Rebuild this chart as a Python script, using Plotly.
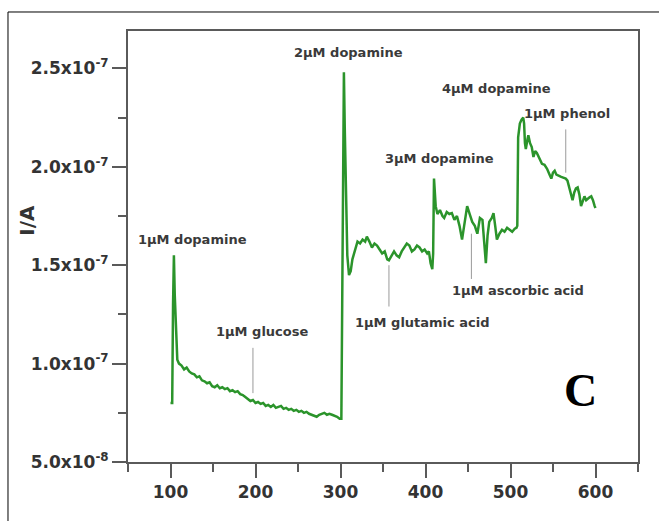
import plotly.graph_objects as go

# time (s)
time_s = [100, 102, 103, 104, 105, 106, 107, 108, 110, 113, 116, 119, 122, 125, 128, 131, 134, 137, 140,
          143, 146, 149, 152, 155, 158, 161, 164, 167, 170, 173, 176, 179, 182, 185, 188, 191, 194, 197,
          200, 203, 206, 209, 212, 215, 218, 221, 224, 227, 230, 233, 236, 239, 242, 245, 248, 251, 254,
          257, 260, 263, 266, 269, 272, 275, 278, 281, 284, 287, 290, 293, 296, 299, 301,
          302, 303, 304, 305, 306, 307, 308, 310, 312, 314, 317, 320, 323, 326, 329, 331, 334, 337, 340,
          343, 346, 349, 352, 355, 357, 360, 363, 366, 369, 372, 375, 378, 381, 384, 387, 390, 393, 396,
          399, 402, 404, 406, 408, 409, 410, 411, 412, 414, 417, 420, 422, 425, 428, 431, 434, 437, 440,
          443, 446, 449, 452, 455, 458, 461, 464, 467, 469, 471, 473, 475, 478, 480, 482, 484, 487, 490,
          493, 496, 499, 502, 505, 507, 508, 509, 511, 513, 515, 516, 517, 518, 520, 521, 523, 525, 527,
          529, 531, 533, 535, 537, 540, 543, 546, 548, 550, 552, 554, 556, 559, 562, 565, 567, 569, 571,
          573, 575, 577, 579, 581, 583, 585, 587, 589, 591, 593, 595, 597, 599, 600]

# current in units of 1e-7 A
current_e7 = [0.80, 0.80, 1.30, 1.55, 1.35, 1.25, 1.10, 1.02, 1.00, 0.99, 0.97, 0.98, 0.96, 0.95, 0.945, 0.93,
              0.935, 0.915, 0.91, 0.90, 0.905, 0.885, 0.88, 0.89, 0.875, 0.88, 0.87, 0.875, 0.86, 0.865,
              0.855, 0.86, 0.845, 0.84, 0.83, 0.82, 0.81, 0.815, 0.80, 0.805, 0.795, 0.80, 0.785, 0.79,
              0.78, 0.79, 0.775, 0.78, 0.785, 0.77, 0.775, 0.765, 0.77, 0.76, 0.765, 0.755, 0.76, 0.75,
              0.755, 0.745, 0.74, 0.735, 0.73, 0.74, 0.745, 0.75, 0.74, 0.745, 0.74, 0.735, 0.73, 0.72, 0.72,
              1.30, 2.20, 2.48, 2.20, 1.90, 1.70, 1.55, 1.45, 1.47, 1.53, 1.58, 1.62, 1.61, 1.63, 1.62,
              1.645, 1.62, 1.59, 1.61, 1.60, 1.58, 1.56, 1.57, 1.53, 1.525, 1.55, 1.57, 1.55, 1.54, 1.57,
              1.59, 1.61, 1.60, 1.57, 1.58, 1.60, 1.59, 1.57, 1.58, 1.56, 1.57, 1.51, 1.48, 1.56, 1.94,
              1.85, 1.80, 1.76, 1.78, 1.75, 1.74, 1.77, 1.76, 1.765, 1.73, 1.75, 1.70, 1.63, 1.72, 1.80,
              1.76, 1.72, 1.70, 1.66, 1.74, 1.73, 1.62, 1.51, 1.65, 1.72, 1.74, 1.765, 1.70, 1.63, 1.66,
              1.68, 1.67, 1.69, 1.68, 1.67, 1.685, 1.69, 1.70, 2.15, 2.22, 2.24, 2.25, 2.22, 2.12, 2.09,
              2.14, 2.16, 2.12, 2.10, 2.05, 2.08, 2.07, 2.05, 2.03, 2.015, 2.01, 1.99, 1.96, 1.94, 1.97,
              1.98, 1.96, 1.955, 1.95, 1.945, 1.94, 1.93, 1.90, 1.86, 1.83, 1.87, 1.89, 1.895, 1.86, 1.80,
              1.83, 1.85, 1.83, 1.84, 1.845, 1.85, 1.83, 1.80, 1.79]

current_A = [v * 1e-7 for v in current_e7]

# labels (text, x, y in 1e-7 A)
label_text = ["1\u03bcM dopamine", "2\u03bcM dopamine", "1\u03bcM glucose", "1\u03bcM glutamic acid",
              "3\u03bcM dopamine", "1\u03bcM ascorbic acid", "4\u03bcM dopamine", "1\u03bcM phenol"]
label_x = [126, 309, 208, 396, 417, 509, 484, 566]
label_y = [1.63, 2.58, 1.165, 1.21, 2.04, 1.37, 2.40, 2.27]

# pointer lines for interferents
pointer_x = [197, 357, 454, 565]
pointer_y0 = [0.85, 1.29, 1.43, 1.97]
pointer_y1 = [1.08, 1.50, 1.66, 2.19]

y_tickvals = [0.5e-7, 1.0e-7, 1.5e-7, 2.0e-7, 2.5e-7]
y_ticktext = ["5.0x10<sup>-8</sup>", "1.0x10<sup>-7</sup>", "1.5x10<sup>-7</sup>",
              "2.0x10<sup>-7</sup>", "2.5x10<sup>-7</sup>"]
x_tickvals = [100, 200, 300, 400, 500, 600]

fig = go.Figure()

for px_, a, b in zip(pointer_x, pointer_y0, pointer_y1):
    fig.add_trace(go.Scatter(x=[px_, px_], y=[a * 1e-7, b * 1e-7], mode="lines",
                             line=dict(color="#9a9a9a", width=1), showlegend=False, hoverinfo="skip"))

fig.add_trace(go.Scatter(x=time_s, y=current_A, mode="lines",
                         line=dict(color="#2b942b", width=2.5), showlegend=False))

for t, x, y in zip(label_text, label_x, label_y):
    fig.add_annotation(x=x, y=y * 1e-7, xref="x", yref="y", text=t, showarrow=False,
                       xanchor="center", yanchor="middle",
                       font=dict(family="DejaVu Sans", size=13, color="#3a3a3a", weight="bold"))

fig.add_annotation(x=0.888, y=0.167, xref="paper", yref="paper", text="C", showarrow=False,
                   xanchor="center", yanchor="middle",
                   font=dict(family="Liberation Serif", size=46, color="black", weight="bold"))

fig.add_annotation(x=0.435, y=0, xref="paper", yref="paper", text="t/s", showarrow=False,
                   xanchor="center", yanchor="top", yshift=-52,
                   font=dict(family="DejaVu Sans", size=20, color="#3a3a3a", weight="bold"))

fig.add_annotation(x=-0.198, y=0.56, xref="paper", yref="paper", text="I/A", showarrow=False,
                   textangle=-90, xanchor="center", yanchor="middle",
                   font=dict(family="DejaVu Sans", size=20, color="#333333", weight="bold"))

# outer frame
fig.add_shape(type="rect", xref="paper", yref="paper", x0=-0.2353, y0=-1, x1=2, y1=1.0441,
              line=dict(color="black", width=1))

axis_common = dict(showline=True, linecolor="#5a5a5a", linewidth=2, mirror=True,
                   ticks="outside", tickcolor="#5a5a5a", tickwidth=2, ticklen=14,
                   showgrid=False, zeroline=False,
                   tickfont=dict(family="DejaVu Sans", size=17, color="#333333", weight="bold"))

fig.update_xaxes(range=[50, 650], tickvals=x_tickvals,
                 minor=dict(tickvals=[50, 150, 250, 350, 450, 550, 650], ticklen=8,
                            tickcolor="#5a5a5a", tickwidth=2, ticks="outside"),
                 **axis_common)
fig.update_yaxes(range=[0.5e-7, 2.69e-7], tickvals=y_tickvals, ticktext=y_ticktext,
                 minor=dict(tickvals=[0.75e-7, 1.25e-7, 1.75e-7, 2.25e-7], ticklen=8,
                            tickcolor="#5a5a5a", tickwidth=2, ticks="outside"),
                 **axis_common)

fig.update_layout(width=659, height=521, margin=dict(l=128, r=21, t=31, b=59),
                  paper_bgcolor="white", plot_bgcolor="white")

fig.write_html("out.html")
